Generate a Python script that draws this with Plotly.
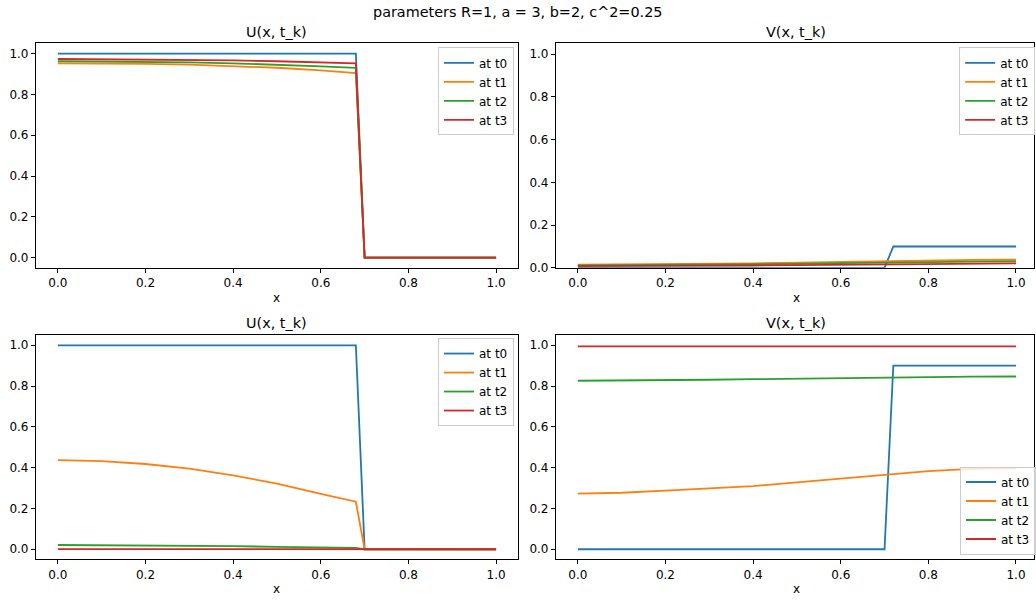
import plotly.graph_objects as go

W, H = 1036, 606

# ---- data ----
XU = [0.0, 0.1, 0.2, 0.3, 0.4, 0.5, 0.6, 0.68, 0.70, 0.8, 0.9, 1.0]
XV = [0.0, 0.1, 0.2, 0.3, 0.4, 0.5, 0.6, 0.70, 0.72, 0.8, 0.9, 1.0]

U_top = {
    "at t0": [1, 1, 1, 1, 1, 1, 1, 1, 0, 0, 0, 0],
    "at t1": [0.953, 0.952, 0.950, 0.946, 0.940, 0.931, 0.918, 0.905, 0, 0, 0, 0],
    "at t2": [0.963, 0.962, 0.960, 0.957, 0.953, 0.947, 0.938, 0.931, 0, 0, 0, 0],
    "at t3": [0.974, 0.973, 0.972, 0.970, 0.967, 0.963, 0.957, 0.953, 0, 0, 0, 0],
}
V_top = {
    "at t0": [0, 0, 0, 0, 0, 0, 0, 0, 0.1, 0.1, 0.1, 0.1],
    "at t1": [0.015, 0.016, 0.017, 0.019, 0.021, 0.024, 0.028, 0.031, 0.032, 0.035, 0.037, 0.038],
    "at t2": [0.012, 0.013, 0.014, 0.015, 0.017, 0.019, 0.022, 0.025, 0.025, 0.027, 0.029, 0.030],
    "at t3": [0.008, 0.008, 0.009, 0.010, 0.011, 0.013, 0.015, 0.017, 0.017, 0.019, 0.020, 0.021],
}
U_bot = {
    "at t0": [1, 1, 1, 1, 1, 1, 1, 1, 0, 0, 0, 0],
    "at t1": [0.437, 0.432, 0.418, 0.395, 0.362, 0.322, 0.272, 0.233, 0, 0, 0, 0],
    "at t2": [0.021, 0.020, 0.019, 0.017, 0.015, 0.012, 0.009, 0.007, 0, 0, 0, 0],
    "at t3": [0.001, 0.001, 0.001, 0.001, 0.001, 0.001, 0.0, 0.0, 0, 0, 0, 0],
}
V_bot = {
    "at t0": [0, 0, 0, 0, 0, 0, 0, 0, 0.9, 0.9, 0.9, 0.9],
    "at t1": [0.273, 0.277, 0.287, 0.297, 0.310, 0.328, 0.347, 0.366, 0.370, 0.383, 0.394, 0.398],
    "at t2": [0.826, 0.827, 0.829, 0.831, 0.834, 0.837, 0.840, 0.842, 0.843, 0.845, 0.846, 0.847],
    "at t3": [0.995] * 12,
}

COLORS = ["#1f77b4", "#ff7f0e", "#2ca02c", "#d62728"]
TICKS = [0.0, 0.2, 0.4, 0.6, 0.8, 1.0]
TICK_LABELS = ["0.0", "0.2", "0.4", "0.6", "0.8", "1.0"]
SUPTITLE = "parameters R=1, a = 3, b=2, c^2=0.25"

FONT = "DejaVu Sans"
FS = 12      # tick / legend / label font
FT = 14.4    # titles

fig = go.Figure()

panels = [
    (U_top, XU, "x", "y", "legend"),
    (V_top, XV, "x2", "y2", "legend2"),
    (U_bot, XU, "x3", "y3", "legend3"),
    (V_bot, XV, "x4", "y4", "legend4"),
]
for data, xs, xa, ya, lg in panels:
    for (name, ys), col in zip(data.items(), COLORS):
        fig.add_trace(go.Scatter(
            x=xs, y=ys, mode="lines", name=name,
            line=dict(color=col, width=1.8),
            xaxis=xa, yaxis=ya, legend=lg,
        ))

def px_x(p):
    return p / W

def px_y(p):
    return 1 - p / H

axis_common = dict(
    showline=True, linecolor="black", linewidth=1, mirror=True,
    ticks="outside", ticklen=4, tickwidth=1, tickcolor="black",
    showgrid=False, zeroline=False,
    tickfont=dict(family=FONT, size=FS, color="black"),
    tickvals=TICKS, ticktext=TICK_LABELS,
)

left_dom = [px_x(36), px_x(519)]
right_dom = [px_x(557), 1.0]
top_dom = [px_y(271), px_y(44)]
bot_dom = [px_y(566), px_y(339)]
right_range = [-0.05, -0.05 + (1036 - 557) / 439.0]

fig.update_layout(
    width=W, height=H,
    margin=dict(l=0, r=0, t=0, b=0),
    paper_bgcolor="white", plot_bgcolor="white",
    font=dict(family=FONT, size=FS, color="black"),
    xaxis=dict(domain=left_dom, range=[-0.05, 1.05], anchor="y", **axis_common),
    yaxis=dict(domain=top_dom, range=[-0.05, 1.05], anchor="x", **axis_common),
    xaxis2=dict(domain=right_dom, range=right_range, anchor="y2", **axis_common),
    yaxis2=dict(domain=top_dom, range=[0, 1.05], anchor="x2", **axis_common),
    xaxis3=dict(domain=left_dom, range=[-0.05, 1.05], anchor="y3", **axis_common),
    yaxis3=dict(domain=bot_dom, range=[-0.05, 1.05], anchor="x3", **axis_common),
    xaxis4=dict(domain=right_dom, range=right_range, anchor="y4", **axis_common),
    yaxis4=dict(domain=bot_dom, range=[-0.05, 1.05], anchor="x4", **axis_common),
)

leg_common = dict(
    bgcolor="rgba(255,255,255,0.8)", bordercolor="#cccccc", borderwidth=1,
    font=dict(family=FONT, size=FS, color="black"),
    tracegroupgap=0, itemwidth=30,
)
fig.update_layout(
    legend=dict(x=px_x(515), y=px_y(48), xanchor="right", yanchor="top", **leg_common),
    legend2=dict(x=px_x(961), y=px_y(48), xanchor="left", yanchor="top", **leg_common),
    legend3=dict(x=px_x(515), y=px_y(342), xanchor="right", yanchor="top", **leg_common),
    legend4=dict(x=px_x(962), y=px_y(561), xanchor="left", yanchor="bottom", **leg_common),
)

cx_l = (36 + 519) / 2 / W
cx_r = (557 + 1039) / 2 / W
annotations = [
    (SUPTITLE, 0.5, 12, FT),
    ("U(x, t_k)", cx_l, 32, FT),
    ("V(x, t_k)", cx_r, 32, FT),
    ("U(x, t_k)", cx_l, 327, FT),
    ("V(x, t_k)", cx_r, 327, FT),
    ("x", cx_l, 301, FS),
    ("x", cx_r, 301, FS),
    ("x", cx_l, 596, FS),
    ("x", cx_r, 596, FS),
]
fig.update_layout(annotations=[
    dict(text=t, x=x, y=px_y(yp), xref="paper", yref="paper",
         xanchor="center", yanchor="middle", showarrow=False,
         font=dict(family=FONT, size=s, color="black"))
    for t, x, yp, s in annotations
])

fig.write_html("out.html")
